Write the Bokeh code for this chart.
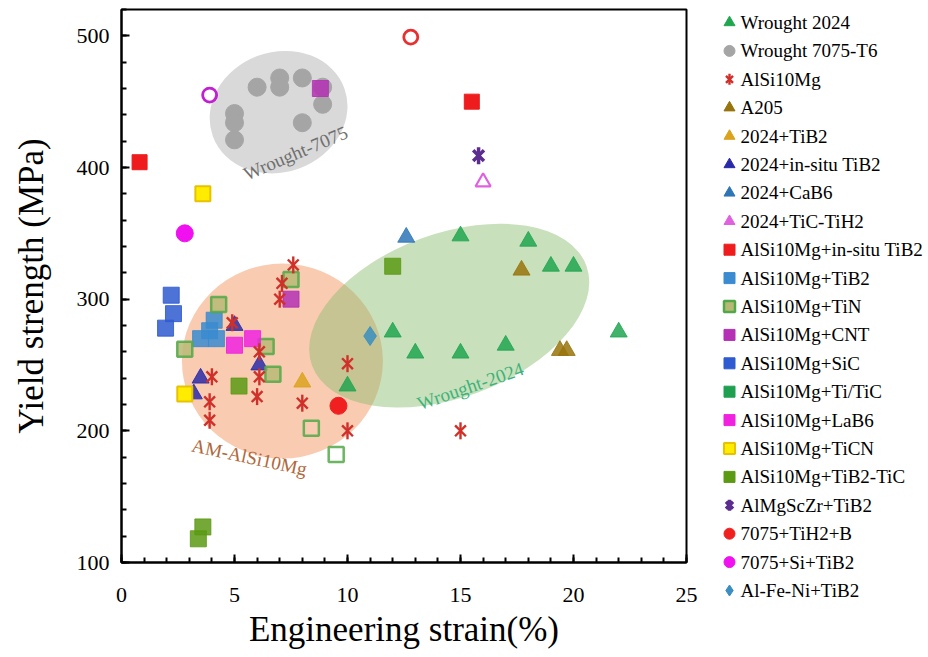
import math
from bokeh.plotting import figure
from bokeh.layouts import row
from bokeh.models import SingleIntervalTicker, Range1d
from bokeh.embed import file_html
from bokeh.resources import INLINE
from bokeh.core.properties import value

FONT = "Liberation Serif"

# ---------------- data (engineering strain %, yield strength MPa) ----------------
w2024_x = [15, 18, 19, 20, 22, 12, 13, 15, 17, 10]
w2024_y = [348, 344, 325, 325, 275, 275, 259, 259, 265, 234]
w7075_x = [6.0, 7.0, 7.0, 8.0, 8.9, 8.9, 8.0, 5.0, 5.0, 5.0]
w7075_y = [461, 468, 461, 468, 461, 448, 434, 441, 434, 421]
alsi_x = [7.6, 7.1, 7.0, 4.9, 6.1, 6.1, 4.0, 3.9, 3.9, 6.0, 8.0, 10.0, 10.0, 15.0]
alsi_y = [326, 312, 300, 282, 260, 241, 241, 222, 208, 226, 221, 200, 251, 200]
a205_x = [17.7, 19.4, 19.7]
a205_y = [322, 261, 261]
tib2_2024_x = [8.0]
tib2_2024_y = [237]
insitu_2024_x = [5.0, 3.5, 6.1, 3.2]
insitu_2024_y = [280, 240, 250, 228]
cab6_x = [12.6]
cab6_y = [347]
tictih2_x = [16.0]
tictih2_y = [389]
alsi_insitu_x = [15.5, 0.8]
alsi_insitu_y = [450, 404]
alsi_tib2_x = [4.1, 3.9, 3.5, 4.2]
alsi_tib2_y = [284, 276, 270, 270]
alsi_tin_x = [4.3, 2.8, 6.4, 7.5, 6.7]
alsi_tin_y = [296, 262, 264, 315, 243]
alsi_tin_open_x = [8.4, 9.5]
alsi_tin_open_y = [202, 182]
alsi_cnt_x = [7.5, 8.8]
alsi_cnt_y = [300, 460]
alsi_sic_x = [2.2, 2.3, 1.95]
alsi_sic_y = [303, 289, 278]
alsi_titic_x = []
alsi_titic_y = []
alsi_lab6_x = [5.0, 5.8]
alsi_lab6_y = [265, 270]
alsi_ticn_x = [3.6, 2.8]
alsi_ticn_y = [380, 228]
alsi_tib2tic_x = [3.6, 3.4, 5.2, 12.0]
alsi_tib2tic_y = [127, 118, 234, 325]
almgsczr_x = [15.8]
almgsczr_y = [409]
tih2b_x = [9.6]
tih2b_y = [219]
tih2b_open_x = [12.8]
tih2b_open_y = [499]
sitib2_x = [2.8]
sitib2_y = [350]
sitib2_open_x = [3.9]
sitib2_open_y = [455]
alfeni_x = [11.0]
alfeni_y = [272]

# shaded regions and their labels
region_x = [6.95, 7.12, 14.5]
region_y = [442, 253, 287.5]
label_text = ["Wrought-7075", "AM-AlSi10Mg", "Wrought-2024"]
label_x = [7.7, 5.66, 15.44]
label_y = [411, 180, 234]

legend_labels = ["Wrought 2024", "Wrought 7075-T6", "AlSi10Mg", "A205", "2024+TiB2",
                 "2024+in-situ TiB2", "2024+CaB6", "2024+TiC-TiH2", "AlSi10Mg+in-situ TiB2",
                 "AlSi10Mg+TiB2", "AlSi10Mg+TiN", "AlSi10Mg+CNT", "AlSi10Mg+SiC",
                 "AlSi10Mg+Ti/TiC", "AlSi10Mg+LaB6", "AlSi10Mg+TiCN", "AlSi10Mg+TiB2-TiC",
                 "AlMgScZr+TiB2", "7075+TiH2+B", "7075+Si+TiB2", "Al-Fe-Ni+TiB2"]

# marker style per series: (marker, fill, line, line width)
styles = {
    "Wrought 2024": ("triangle", "#21a650", None, 1),
    "Wrought 7075-T6": ("circle", "#a5a5a5", None, 1),
    "AlSi10Mg": ("star", None, "#d0302a", 2.4),
    "A205": ("triangle", "#98740c", None, 1),
    "2024+TiB2": ("triangle", "#dba21c", None, 1),
    "2024+in-situ TiB2": ("triangle", "#2a2aa8", None, 1),
    "2024+CaB6": ("triangle", "#2e75b6", None, 1),
    "2024+TiC-TiH2": ("triangle", "#e060e0", None, 1),
    "AlSi10Mg+in-situ TiB2": ("square", "#ee1c1c", None, 1),
    "AlSi10Mg+TiB2": ("square", "#3a8bd0", None, 1),
    "AlSi10Mg+TiN": ("square", "#b8b874", "#52a848", 2.5),
    "AlSi10Mg+CNT": ("square", "#b430b4", None, 1),
    "AlSi10Mg+SiC": ("square", "#2f5bd0", None, 1),
    "AlSi10Mg+Ti/TiC": ("square", "#1fa050", None, 1),
    "AlSi10Mg+LaB6": ("square", "#f022e0", None, 1),
    "AlSi10Mg+TiCN": ("square", "#ffec00", "#e6c200", 2),
    "AlSi10Mg+TiB2-TiC": ("square", "#5c9a14", None, 1),
    "AlMgScZr+TiB2": ("star", None, "#5b2d8e", 3.5),
    "7075+TiH2+B": ("circle", "#f02020", None, 1),
    "7075+Si+TiB2": ("circle", "#f010f0", None, 1),
    "Al-Fe-Ni+TiB2": ("diamond", "#3a8fc0", None, 1),
}

# ---------------- main figure ----------------
FL, FT, FW, FH = 121, 9, 565, 553
RB = 14
p = figure(frame_width=FW, frame_height=FH, x_range=Range1d(0, 25), y_range=Range1d(100, 520),
           output_backend="svg", toolbar_location=None,
           min_border_left=FL, min_border_right=RB,
           min_border_top=FT, min_border_bottom=94)
p.xgrid.grid_line_color = None
p.ygrid.grid_line_color = None
p.outline_line_color = "black"
p.outline_line_width = 2
p.outline_line_alpha = 1
p.background_fill_color = "white"

p.xaxis.ticker = SingleIntervalTicker(interval=5, num_minor_ticks=5)
p.yaxis.ticker = SingleIntervalTicker(interval=100, num_minor_ticks=5)
p.xaxis.axis_label = "Engineering strain(%)"
p.yaxis.axis_label = "Yield strength (MPa)"
for ax in (p.xaxis[0], p.yaxis[0]):
    ax.major_tick_in = 8
    ax.major_tick_out = 0
    ax.minor_tick_in = 5
    ax.minor_tick_out = 0
    ax.axis_line_width = 2
    ax.axis_line_color = "black"
    ax.major_tick_line_width = 2
    ax.minor_tick_line_width = 2
    ax.major_tick_line_color = "black"
    ax.minor_tick_line_color = "black"
    ax.major_label_text_font = FONT
    ax.major_label_text_font_size = "22px"
    ax.major_label_text_color = "black"
    ax.axis_label_text_font = FONT
    ax.axis_label_text_font_size = "35px"
    ax.axis_label_text_font_style = "normal"
    ax.axis_label_text_color = "black"
p.xaxis.major_label_standoff = 25
p.xaxis.axis_label_standoff = 5
p.yaxis.major_label_standoff = 12
p.yaxis.axis_label_standoff = 23

# shaded regions (under the markers)
p.ellipse(x=region_x[0:1], y=region_y[0:1], width=140, height=120, angle=0.35,
          width_units="screen", height_units="screen",
          fill_color="#d9d9d9", fill_alpha=1.0, line_color=None)
p.ellipse(x=region_x[1:2], y=region_y[1:2], width=201, height=195, angle=0,
          width_units="screen", height_units="screen",
          fill_color="#f9ccb2", fill_alpha=1.0, line_color=None)
p.ellipse(x=region_x[2:3], y=region_y[2:3], width=292, height=164, angle=0.349,
          width_units="screen", height_units="screen",
          fill_color="#87ba6a", fill_alpha=0.45, line_color=None)

A = 0.85


def draw(fig, name, xs, ys, size, alpha=A):
    marker, fill, line, lw = styles[name]
    if marker == "star":
        fig.scatter(xs, ys, marker="x", size=size * 0.9, line_color=line, line_width=lw)
        fig.scatter(xs, ys, marker="dash", size=size, angle=math.pi / 2,
                    line_color=line, line_width=lw)
    else:
        fig.scatter(xs, ys, marker=marker, size=size, fill_color=fill, fill_alpha=alpha,
                    line_color=line if line else fill, line_alpha=alpha, line_width=lw)


draw(p, "Wrought 7075-T6", w7075_x, w7075_y, 18, 1.0)
draw(p, "Wrought 2024", w2024_x, w2024_y, 17)
draw(p, "A205", a205_x, a205_y, 17)
draw(p, "2024+TiB2", tib2_2024_x, tib2_2024_y, 17)
draw(p, "2024+in-situ TiB2", insitu_2024_x, insitu_2024_y, 17)
draw(p, "2024+CaB6", cab6_x, cab6_y, 17)
p.scatter(tictih2_x, tictih2_y, marker="triangle", size=15,
          fill_color="white", line_color="#e060e0", line_width=2.2)
draw(p, "AlSi10Mg+in-situ TiB2", alsi_insitu_x, alsi_insitu_y, 15, 1.0)
draw(p, "AlSi10Mg+TiB2", alsi_tib2_x, alsi_tib2_y, 16)
draw(p, "AlSi10Mg+TiN", alsi_tin_x, alsi_tin_y, 15)
p.scatter(alsi_tin_open_x, alsi_tin_open_y, marker="square", size=15,
          fill_color=None, line_color="#52a848", line_alpha=A, line_width=2.5)
draw(p, "AlSi10Mg+CNT", alsi_cnt_x, alsi_cnt_y, 16)
draw(p, "AlSi10Mg+SiC", alsi_sic_x, alsi_sic_y, 16)
draw(p, "AlSi10Mg+Ti/TiC", alsi_titic_x, alsi_titic_y, 16)
draw(p, "AlSi10Mg+LaB6", alsi_lab6_x, alsi_lab6_y, 16)
draw(p, "AlSi10Mg+TiCN", alsi_ticn_x, alsi_ticn_y, 15, 1.0)
draw(p, "AlSi10Mg+TiB2-TiC", alsi_tib2tic_x, alsi_tib2tic_y, 16)
draw(p, "7075+TiH2+B", tih2b_x, tih2b_y, 17, 1.0)
p.scatter(tih2b_open_x, tih2b_open_y, marker="circle", size=14,
          fill_color=None, line_color="#e83030", line_width=2.8)
draw(p, "7075+Si+TiB2", sitib2_x, sitib2_y, 17, 1.0)
p.scatter(sitib2_open_x, sitib2_open_y, marker="circle", size=14,
          fill_color=None, line_color="#c020d0", line_width=2.8)
draw(p, "Al-Fe-Ni+TiB2", alfeni_x, alfeni_y, 19)
draw(p, "AlSi10Mg", alsi_x, alsi_y, 17)
draw(p, "AlMgScZr+TiB2", almgsczr_x, almgsczr_y, 17)

label_angles = [0.40, -0.21, 0.33]
label_colors = ["#6f6f6f", "#b0683a", "#3db37a"]
for i in range(3):
    p.text(x=label_x[i:i + 1], y=label_y[i:i + 1], text=label_text[i:i + 1],
           angle=label_angles[i], text_font=value(FONT), text_font_size="19px",
           text_color=label_colors[i], text_align="center", text_baseline="middle")

# ---------------- legend panel (separate figure to the right) ----------------
LW = 238 - (RB - 2)
LH = FT + FH + 94
leg = figure(frame_width=LW, frame_height=LH, x_range=Range1d(0, LW), y_range=Range1d(LH, 0),
             output_backend="svg", toolbar_location=None,
             x_axis_location=None, y_axis_location=None,
             min_border_left=0, min_border_right=0, min_border_top=0, min_border_bottom=0)
leg.xgrid.grid_line_color = None
leg.ygrid.grid_line_color = None
leg.outline_line_color = None

first, step = 13, 28.4
gx = 41 - (RB - 2)
for i, name in enumerate(legend_labels):
    yy = [first + step * i]
    draw(leg, name, [gx], yy, 11, 1.0)
leg.text(x=[gx + 11] * len(legend_labels), y=[first + step * i for i in range(len(legend_labels))],
         text=legend_labels, text_font=value(FONT), text_font_size="19px",
         text_color="black", text_align="left", text_baseline="middle")

layout = row(p, leg)
open("out.html", "w").write(file_html(layout, INLINE))
